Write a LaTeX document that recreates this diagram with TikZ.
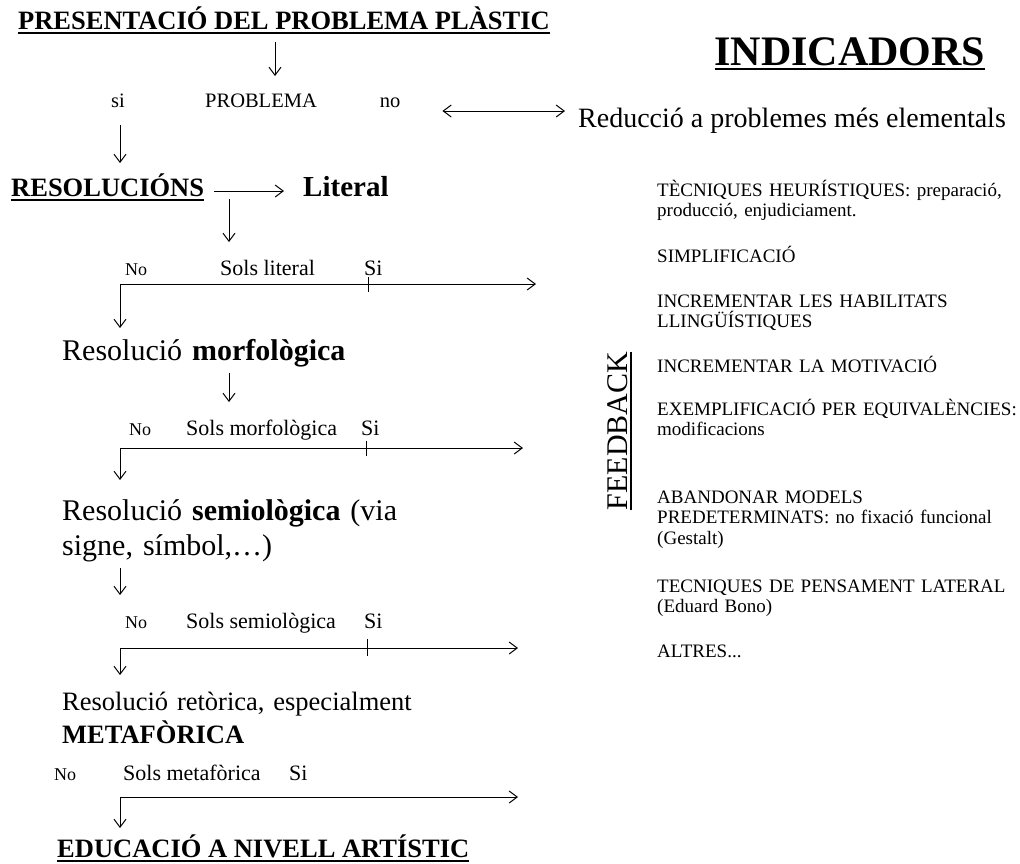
\documentclass[tikz,border=0pt]{standalone}
\usepackage{fontspec}
\setmainfont{Liberation Serif}
\usetikzlibrary{arrows.meta}
\newcommand{\subratlla}[1]{\setbox0=\hbox{#1}\rlap{\copy0}\rule[-5pt]{\wd0}{1.8pt}}

\begin{document}
\begin{tikzpicture}[x=1pt, y=-1pt]
	\tikzstyle{titol} = [inner sep=0pt, font=\fontsize{26.5}{30}\selectfont\bfseries]
	\tikzstyle{resolucio} = [inner sep=0pt, anchor=base west, text width=360pt,
	align=left, font=\fontsize{30}{35}\selectfont]
	\tikzstyle{retorica} = [resolucio, font=\fontsize{26.5}{33}\selectfont]
	\tikzstyle{pregunta} = [inner sep=0pt, anchor=base west, font=\fontsize{22}{26}\selectfont]
	\tikzstyle{resposta} = [inner sep=0pt, anchor=base west, font=\fontsize{18}{20}\selectfont]
	\tikzstyle{indicador} = [inner sep=0pt, anchor=base west, text width=365pt,
	align=left, font=\fontsize{19}{20.5}\selectfont]
	\tikzstyle{arrow} = [line width=1pt, ->, >={Straight Barb[length=8pt, width=12pt]}]
	\tikzstyle{tick} = [line width=1pt]
	\useasboundingbox (0,0) rectangle (1020,863);
	% capcaleres
	\node (titol) [titol, anchor=base] at (284,29) {\subratlla{PRESENTACIÓ DEL PROBLEMA PLÀSTIC}};
	\node (indicadors) [titol, anchor=base, font=\fontsize{42}{48}\selectfont\bfseries] at (850,65) {\subratlla{INDICADORS}};
	\node (si0) [resposta, anchor=base, font=\fontsize{20.5}{24}\selectfont] at (118,107) {si};
	\node (problema) [resposta, anchor=base, font=\fontsize{20.5}{24}\selectfont] at (261,107) {PROBLEMA};
	\node (no0) [resposta, anchor=base, font=\fontsize{20.5}{24}\selectfont] at (390,107) {no};
	\node (reduccio) [pregunta, font=\fontsize{28}{32}\selectfont] at (578,127) {Reducció a problemes més elementals};
	\node (resol) [titol, anchor=base west] at (11,196) {\subratlla{RESOLUCIÓNS}};
	\node (literal) [titol, anchor=base west, font=\fontsize{29}{34}\selectfont\bfseries] at (303,196) {Literal};
	% literal
	\node (no1) [resposta] at (125,275) {No};
	\node (sols1) [pregunta] at (220,275) {Sols literal};
	\node (si1) [pregunta] at (364,275) {Si};
	\node (morf) [resolucio] at (62,360) {Resolució \textbf{morfològica}};
	% morfologica
	\node (no2) [resposta] at (129,435) {No};
	\node (sols2) [pregunta] at (186,435) {Sols morfològica};
	\node (si2) [pregunta] at (361,435) {Si};
	\node (semio) [resolucio] at (62,520) {Resolució \textbf{semiològica} (via\\signe, símbol,…)};
	% semiologica
	\node (no3) [resposta] at (125,628) {No};
	\node (sols3) [pregunta] at (186,628) {Sols semiològica};
	\node (si3) [pregunta] at (364,628) {Si};
	\node (retor) [retorica] at (62,710) {Resolució retòrica, especialment\\\textbf{METAFÒRICA}};
	% metaforica
	\node (no4) [resposta] at (54,780) {No};
	\node (sols4) [pregunta] at (123,780) {Sols metafòrica};
	\node (si4) [pregunta] at (289,780) {Si};
	\node (educacio) [titol, anchor=base west] at (57,857) {\subratlla{EDUCACIÓ A NIVELL ARTÍSTIC}};
	% indicadors
	\node (feedback) [rotate=90, anchor=base, inner sep=0pt, font=\fontsize{30}{34}\selectfont] at (627,431) {\subratlla{FEEDBACK}};
	\node (ind1) [indicador] at (657,196) {TÈCNIQUES HEURÍSTIQUES: preparació,\\producció, enjudiciament.};
	\node (ind2) [indicador] at (657,262) {SIMPLIFICACIÓ};
	\node (ind3) [indicador] at (657,307) {INCREMENTAR LES HABILITATS\\LLINGÜÍSTIQUES};
	\node (ind4) [indicador] at (657,372) {INCREMENTAR LA MOTIVACIÓ};
	\node (ind5) [indicador] at (657,415) {EXEMPLIFICACIÓ PER EQUIVALÈNCIES:\\modificacions};
	\node (ind6) [indicador] at (657,503) {ABANDONAR MODELS\\PREDETERMINATS: no fixació funcional\\(Gestalt)};
	\node (ind7) [indicador] at (657,592) {TECNIQUES DE PENSAMENT LATERAL\\(Eduard Bono)};
	\node (ind8) [indicador] at (657,657) {ALTRES...};
	% bifurcacions
	\coordinate (f1) at (120,284);
	\coordinate (g1) at (536,284);
	\coordinate (f2) at (120,448);
	\coordinate (g2) at (523,448);
	\coordinate (f3) at (120,648);
	\coordinate (g3) at (518,648);
	\coordinate (f4) at (120,797);
	\coordinate (g4) at (518,797);
	\draw [arrow] ([xshift=-9pt,yshift=-13pt]titol.base) -- ([xshift=-9pt,yshift=31pt]titol.base |- problema.base);
	\draw [arrow, <->, shorten >=13pt] ([xshift=42pt,yshift=-4pt]no0.base east) coordinate (h0) -- (reduccio.west |- h0);
	\draw [arrow] ([xshift=2pt,yshift=-18pt]si0.base) coordinate (v0) -- ([yshift=33pt]v0 |- resol.base);
	\draw [arrow] ([xshift=10pt,yshift=5pt]resol.base east) coordinate (h1) -- ([xshift=-19pt]literal.base west |- h1);
	\draw [arrow] ([xshift=9pt,yshift=-3pt]sols1.base west |- resol.base) -- ([xshift=9pt,yshift=33pt]sols1.base west);
	\draw [arrow] (f1) -- (g1);
	\draw [tick] ([xshift=4pt]si1.base west |- f1) ++(0,-7) -- ++(0,15);
	\draw [arrow] (f1) -- ([yshift=32pt]f1 |- morf.base);
	\draw [arrow] ([xshift=43pt,yshift=-13pt]sols2.base west |- morf.base) -- ([xshift=43pt,yshift=33pt]sols2.base west);
	\draw [arrow] (f2) -- (g2);
	\draw [tick] ([xshift=5pt]si2.base west |- f2) ++(0,-7) -- ++(0,15);
	\draw [arrow] (f2) -- ([yshift=40pt]f2 |- semio.base);
	\draw [arrow] ([yshift=-48pt]f2 |- semio.base) -- ([yshift=33pt]f2 |- no3.base);
	\draw [arrow] (f3) -- (g3);
	\draw [tick] ([xshift=3pt]si3.base west |- f3) ++(0,-9) -- ++(0,17);
	\draw [arrow] (f3) -- ([yshift=35pt]f3 |- retor.base);
	\draw [arrow] (f4) -- (g4);
	\draw [arrow] (f4) -- ([yshift=29pt]f4 |- educacio.base);
\end{tikzpicture}
\end{document}
